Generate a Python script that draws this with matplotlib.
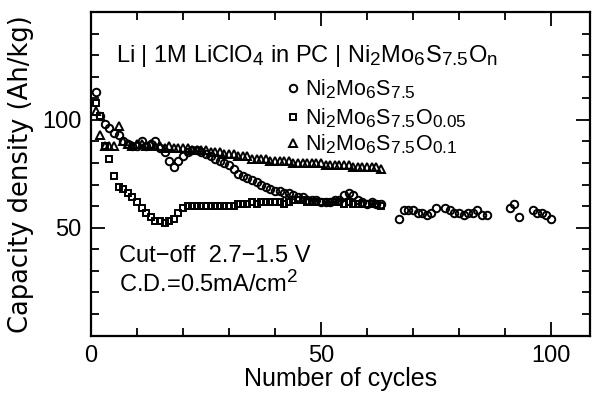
import matplotlib
matplotlib.use("Agg")
import matplotlib.pyplot as plt
from matplotlib.ticker import MultipleLocator
try:
    import matplotlib._mathtext as _mt
    _mt.SHRINK_FACTOR = 0.8
except Exception:
    pass

plt.rcParams['font.family'] = ['Liberation Sans', 'DejaVu Sans']
plt.rcParams['mathtext.fontset'] = 'custom'
plt.rcParams['mathtext.rm'] = 'Liberation Sans'
plt.rcParams['mathtext.it'] = 'Liberation Sans'
plt.rcParams['mathtext.default'] = 'regular'

# Ni2Mo6S7.5 (circles)
cyc_s = list(range(1, 64)) + [67, 68, 69, 70, 71, 72, 73, 74, 75, 77, 78, 79, 80, 81, 82, 83, 84, 85, 86,
                              91, 92, 93, 96, 97, 98, 99, 100]
cap_s = [113, 102, 98, 96, 94, 93, 90, 89, 88, 88, 90, 88, 89, 90, 87, 85, 81, 78, 81, 83,
         85, 86, 86, 85, 84, 83, 82, 81, 80, 79, 77, 75, 74, 73, 72, 71, 70, 69, 68, 67,
         67, 66, 66, 65, 64, 64, 63, 63, 63, 62, 62, 62, 63, 63, 65, 66, 65, 63, 62, 61,
         62, 61, 61,
         54, 58, 58, 58, 57, 57, 56, 57, 59, 59, 58, 57, 57, 56, 57, 57, 58, 56, 56,
         59, 61, 55, 58, 57, 57, 56, 54]

# Ni2Mo6S7.5O0.05 (squares)
cyc_o05 = list(range(1, 64))
cap_o05 = [108, 102, 88, 82, 74, 69, 68, 66, 64, 62, 59, 57, 55, 53, 53, 52, 53, 54, 57, 59,
           60, 60, 60, 60, 60, 60, 60, 60, 60, 60, 60, 61, 61, 61, 62, 61, 62, 62, 62, 62,
           62, 61, 62, 63, 63, 63, 62, 62, 62, 62, 62, 62, 62, 62, 61, 62, 61, 61, 61, 61,
           61, 61, 60]

# Ni2Mo6S7.5O0.1 (triangles)
cyc_o10 = list(range(1, 64))
cap_o10 = [104, 93, 88, 88, 88, 97, 90, 89, 88, 89, 89, 88, 89, 88, 88, 87, 88, 87, 87, 87,
           87, 86, 86, 86, 86, 85, 85, 85, 84, 84, 84, 83, 83, 83, 82, 82, 82, 82, 81, 81,
           81, 81, 81, 80, 80, 80, 80, 80, 80, 80, 79, 79, 79, 79, 79, 79, 78, 78, 78, 78,
           78, 78, 77]

x_ticks = [0, 50, 100]
y_ticks = [50, 100]

fig = plt.figure(figsize=(5.96, 3.93), dpi=100)
ax = fig.add_axes([0.1527, 0.1463, 0.99 - 0.1527, 0.9695 - 0.1463])

mk = dict(linestyle='none', markerfacecolor='none', markeredgecolor='black',
          markeredgewidth=1.4, color='black')
ax.plot(cyc_o10, cap_o10, marker='^', markersize=5.8, **mk)
ax.plot(cyc_o05, cap_o05, marker='s', markersize=4.8, **mk)
ax.plot(cyc_s, cap_s, marker='o', markersize=5.4, **mk)

ax.set_xlim(0, 108.5)
ax.set_ylim(0, 150)
ax.set_xticks(x_ticks)
ax.set_yticks(y_ticks)
ax.xaxis.set_minor_locator(MultipleLocator(10))
ax.yaxis.set_minor_locator(MultipleLocator(10))
ax.tick_params(which='both', direction='in', top=True, right=True, width=1.3, labelsize=17, colors='black')
ax.tick_params(which='major', length=10, pad=7)
ax.tick_params(which='minor', length=6)
for s in ax.spines.values():
    s.set_linewidth(1.6)

ax.set_xlabel('Number of cycles', fontsize=18, labelpad=0)
ax.set_ylabel('Capacity density (Ah/kg)', fontsize=18.5, labelpad=6, family=['DejaVu Sans'])

ax.text(5.5, 126.6, r'Li $|$ 1M LiClO$_4$ in PC $|$ Ni$_2$Mo$_6$S$_{7.5}$O$_n$',
        fontsize=17, ha='left', va='baseline')

leg_y = [114.6, 101.2, 89.2]
leg_m = ['o', 's', '^']
leg_ms = [5.4, 4.8, 5.8]
leg_t = [r'Ni$_2$Mo$_6$S$_{7.5}$', r'Ni$_2$Mo$_6$S$_{7.5}$O$_{0.05}$', r'Ni$_2$Mo$_6$S$_{7.5}$O$_{0.1}$']
for yy, m, ms, t in zip(leg_y, leg_m, leg_ms, leg_t):
    ax.plot([44], [yy], marker=m, markersize=ms, **mk)
    ax.text(46.6, yy - 3.4, t, fontsize=15.5, ha='left', va='baseline')

ax.text(6, 34.3, 'Cut\u2212off  2.7\u22121.5 V', fontsize=17, ha='left', va='baseline')
ax.text(6, 20.4, r'C.D.=0.5mA/cm$^2$', fontsize=17, ha='left', va='baseline')

fig.savefig('out.png', dpi=100)
